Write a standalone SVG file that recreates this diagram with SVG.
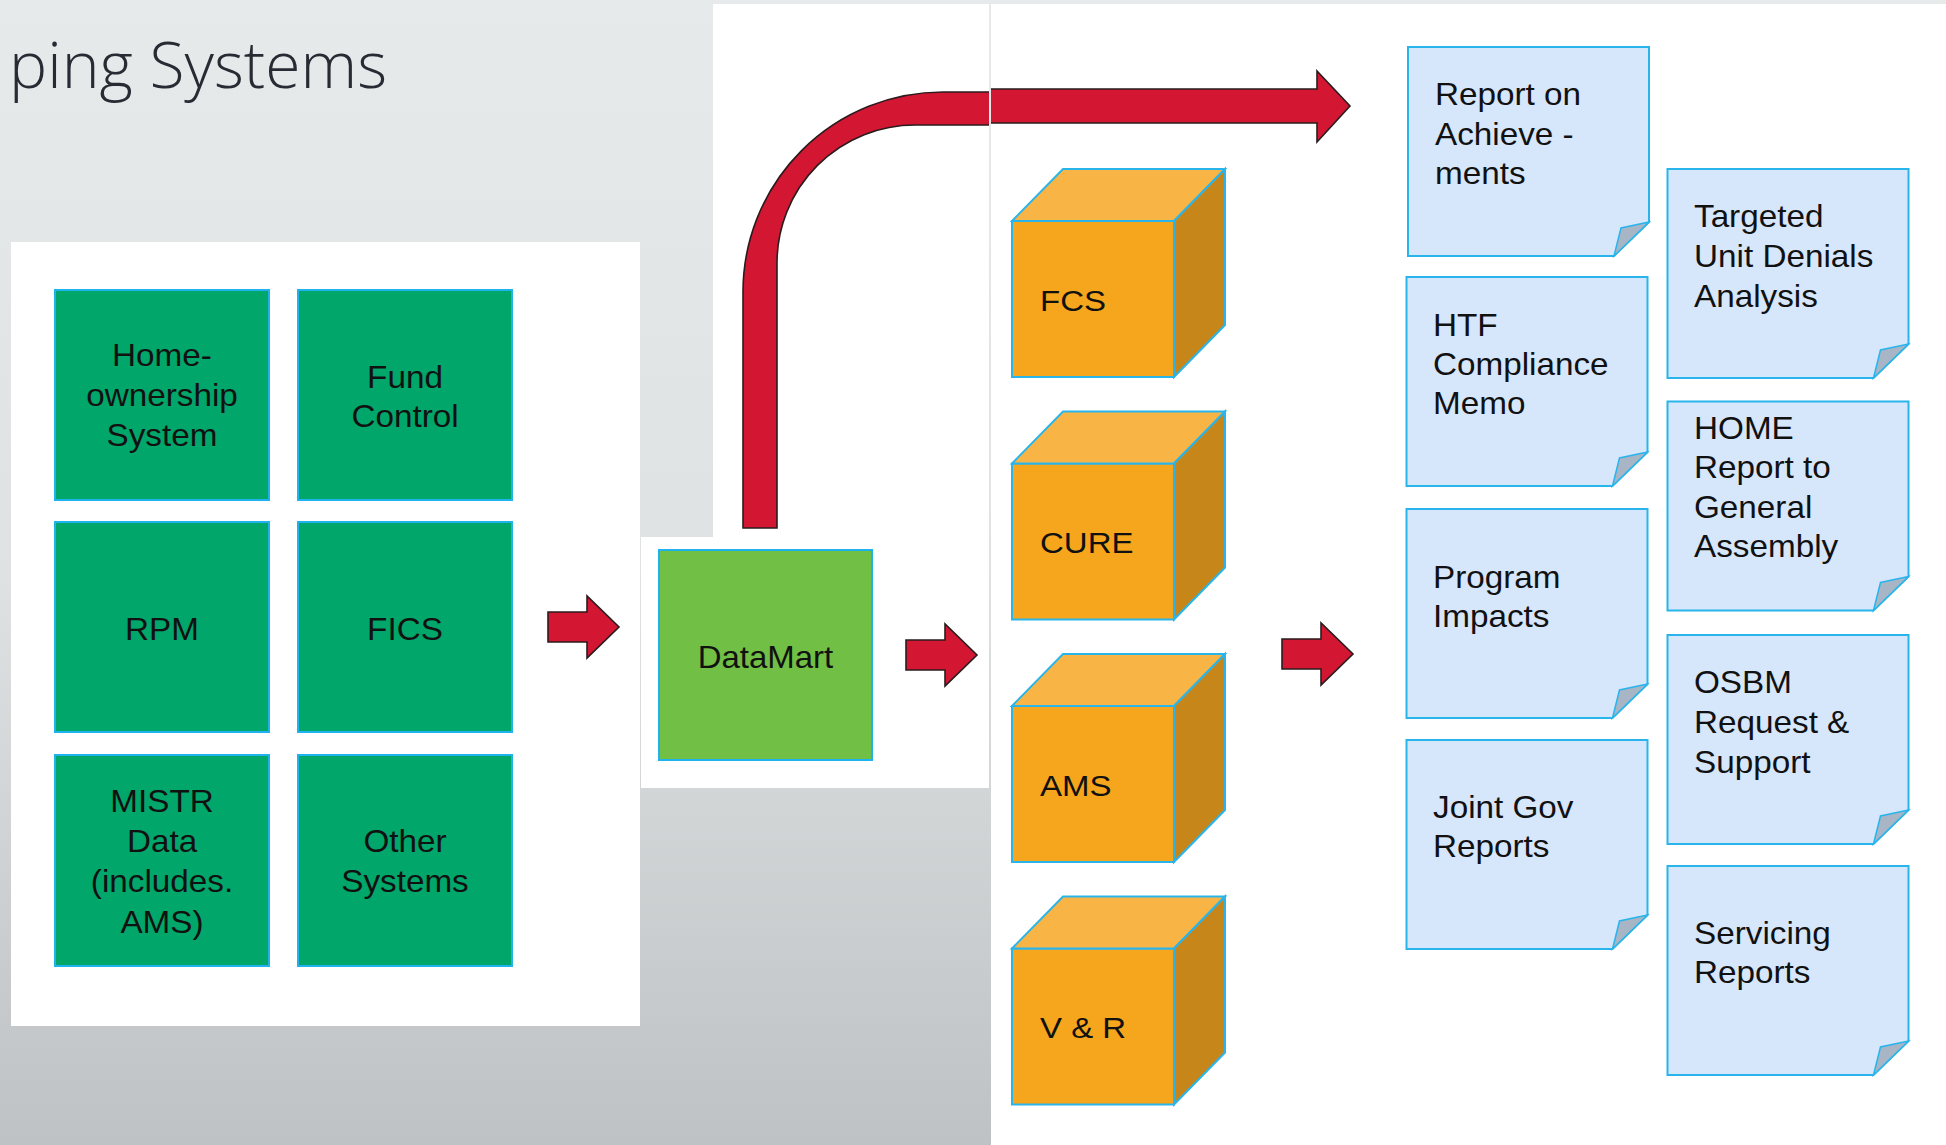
<svg xmlns="http://www.w3.org/2000/svg" xmlns:xlink="http://www.w3.org/1999/xlink" width="1946" height="1145" viewBox="0 0 1946 1145">
<style>
.panel{fill:#ffffff}
.sys{fill:#00a66a;stroke:#1fb3ee;stroke-width:2}
.dm{fill:#71bf44;stroke:#1fb3ee;stroke-width:2}
.lbl{font-family:"Liberation Sans",Arial,sans-serif;font-size:32px;fill:#111111}
.clbl{font-family:"Liberation Sans",Arial,sans-serif;font-size:30px;fill:#111111}
.ctr{text-anchor:middle}
.front{fill:#f6a61c;stroke:#2ab5ea;stroke-width:2}
.top{fill:#f8b546;stroke:#2ab5ea;stroke-width:2}
.side{fill:#c7861a;stroke:#2ab5ea;stroke-width:2}
.doc{fill:#d6e6fb;stroke:#29b5ec;stroke-width:2}
.fold{fill:#a8b5c5;stroke:#29b5ec;stroke-width:1.5}
.arrow{fill:#d31632;stroke:#2a1c1e;stroke-width:1.6;stroke-linejoin:miter}
.title{font-family:"Open Sans","Noto Sans",sans-serif;font-weight:300;font-size:64px;fill:#272b33}
</style>
<defs>
<linearGradient id="bgGrad" x1="0" y1="0" x2="0" y2="1">
<stop offset="0" stop-color="#e6eaeb"/>
<stop offset="0.5" stop-color="#dee2e3"/>
<stop offset="1" stop-color="#bfc2c4"/>
</linearGradient>
<g id="cube">
<rect class="front" x="0" y="0" width="162" height="156"/>
<polygon class="top" points="0,0 51,-52 213,-52 162,0"/>
<polygon class="side" points="162,0 213,-52 213,104 162,156"/>
</g>
<g id="docShape">
<path class="doc" d="M0,0 H241 V175 L206,209 H0 Z"/>
<path class="fold" d="M206,209 L213,181 L241,175 Z"/>
</g>
<path id="blockArrow" class="arrow" d="M0,-15 H39 V-31 L71,0 L39,31 V15 H0 Z"/>
<clipPath id="clipL"><rect x="0" y="0" width="989" height="1145"/></clipPath>
<clipPath id="clipR"><rect x="991" y="0" width="955" height="1145"/></clipPath>
</defs>

<rect x="0" y="0" width="1946" height="1145" fill="url(#bgGrad)"/>
<rect class="panel" x="11" y="242" width="629" height="784"/>
<rect class="panel" x="713" y="4" width="276" height="534"/>
<rect class="panel" x="641" y="537" width="348" height="251"/>
<rect class="panel" x="991" y="4" width="955" height="1141"/>

<text class="title" x="9" y="88" textLength="378" lengthAdjust="spacingAndGlyphs">ping Systems</text>

<g id="connectors">
<path class="arrow" clip-path="url(#clipL)" d="M743,528 V292 A200,200 0 0 1 943,92 H1000 V125 H915 A138,138 0 0 0 777,263 V528 Z"/>
<path class="arrow" clip-path="url(#clipR)" d="M980,89 H1317 V71 L1350,106 L1317,142 V123 H980 Z"/>
<use xlink:href="#blockArrow" transform="translate(548 627)"/>
<use xlink:href="#blockArrow" transform="translate(906 655)"/>
<use xlink:href="#blockArrow" transform="translate(1282 654)"/>
</g>

<g id="node-homeownership">
<rect class="sys" x="55" y="290" width="214" height="210"/>
<text class="lbl ctr" transform="translate(162 366) scale(1.04 1)"><tspan x="0" y="0">Home-</tspan><tspan x="0" y="40">ownership</tspan><tspan x="0" y="80">System</tspan></text>
</g>
<g id="node-fundcontrol">
<rect class="sys" x="298" y="290" width="214" height="210"/>
<text class="lbl ctr" transform="translate(405 387.5) scale(1.04 1)"><tspan x="0" y="0">Fund</tspan><tspan x="0" y="40">Control</tspan></text>
</g>
<g id="node-rpm">
<rect class="sys" x="55" y="522" width="214" height="210"/>
<text class="lbl ctr" transform="translate(162 639.5) scale(1.04 1)">RPM</text>
</g>
<g id="node-fics">
<rect class="sys" x="298" y="522" width="214" height="210"/>
<text class="lbl ctr" transform="translate(405 639.5) scale(1.04 1)">FICS</text>
</g>
<g id="node-mistr">
<rect class="sys" x="55" y="755" width="214" height="211"/>
<text class="lbl ctr" transform="translate(162 812) scale(1.04 1)"><tspan x="0" y="0">MISTR</tspan><tspan x="0" y="40">Data</tspan><tspan x="0" y="80">(includes.</tspan><tspan x="0" y="121">AMS)</tspan></text>
</g>
<g id="node-other">
<rect class="sys" x="298" y="755" width="214" height="211"/>
<text class="lbl ctr" transform="translate(405 852) scale(1.04 1)"><tspan x="0" y="0">Other</tspan><tspan x="0" y="40">Systems</tspan></text>
</g>

<g id="node-datamart">
<rect class="dm" x="659" y="550" width="213" height="210"/>
<text class="lbl ctr" transform="translate(765.5 667.5) scale(1.03 1)">DataMart</text>
</g>

<g id="node-fcs">
<use xlink:href="#cube" transform="translate(1012 221)"/>
<text class="clbl" transform="translate(1040 310.7) scale(1.1 1)">FCS</text>
</g>
<g id="node-cure">
<use xlink:href="#cube" transform="translate(1012 463.5)"/>
<text class="clbl" transform="translate(1040 553) scale(1.1 1)">CURE</text>
</g>
<g id="node-ams">
<use xlink:href="#cube" transform="translate(1012 706)"/>
<text class="clbl" transform="translate(1040 795.5) scale(1.1 1)">AMS</text>
</g>
<g id="node-vr">
<use xlink:href="#cube" transform="translate(1012 948.5)"/>
<text class="clbl" transform="translate(1040 1038) scale(1.1 1)">V &amp; R</text>
</g>

<g id="node-report-achievements">
<use xlink:href="#docShape" transform="translate(1408 47)"/>
<text class="lbl" transform="translate(1435 105) scale(1.04 1)"><tspan x="0" y="0">Report on</tspan><tspan x="0" y="40">Achieve -</tspan><tspan x="0" y="79">ments</tspan></text>
</g>
<g id="node-htf">
<use xlink:href="#docShape" transform="translate(1406.5 277)"/>
<text class="lbl" transform="translate(1433 336) scale(1.04 1)"><tspan x="0" y="0">HTF</tspan><tspan x="0" y="39">Compliance</tspan><tspan x="0" y="78">Memo</tspan></text>
</g>
<g id="node-program">
<use xlink:href="#docShape" transform="translate(1406.5 509)"/>
<text class="lbl" transform="translate(1433 588) scale(1.04 1)"><tspan x="0" y="0">Program</tspan><tspan x="0" y="39">Impacts</tspan></text>
</g>
<g id="node-jointgov">
<use xlink:href="#docShape" transform="translate(1406.5 740)"/>
<text class="lbl" transform="translate(1433 817.5) scale(1.04 1)"><tspan x="0" y="0">Joint Gov</tspan><tspan x="0" y="39.5">Reports</tspan></text>
</g>
<g id="node-targeted">
<use xlink:href="#docShape" transform="translate(1667.5 169)"/>
<text class="lbl" transform="translate(1694 227) scale(1.04 1)"><tspan x="0" y="0">Targeted</tspan><tspan x="0" y="40">Unit Denials</tspan><tspan x="0" y="80">Analysis</tspan></text>
</g>
<g id="node-home">
<use xlink:href="#docShape" transform="translate(1667.5 401.5)"/>
<text class="lbl" transform="translate(1694 439) scale(1.04 1)"><tspan x="0" y="0">HOME</tspan><tspan x="0" y="39.5">Report to</tspan><tspan x="0" y="79">General</tspan><tspan x="0" y="118.5">Assembly</tspan></text>
</g>
<g id="node-osbm">
<use xlink:href="#docShape" transform="translate(1667.5 635)"/>
<text class="lbl" transform="translate(1694 693) scale(1.04 1)"><tspan x="0" y="0">OSBM</tspan><tspan x="0" y="40">Request &amp;</tspan><tspan x="0" y="80">Support</tspan></text>
</g>
<g id="node-servicing">
<use xlink:href="#docShape" transform="translate(1667.5 866)"/>
<text class="lbl" transform="translate(1694 944) scale(1.04 1)"><tspan x="0" y="0">Servicing</tspan><tspan x="0" y="39.5">Reports</tspan></text>
</g>
</svg>
